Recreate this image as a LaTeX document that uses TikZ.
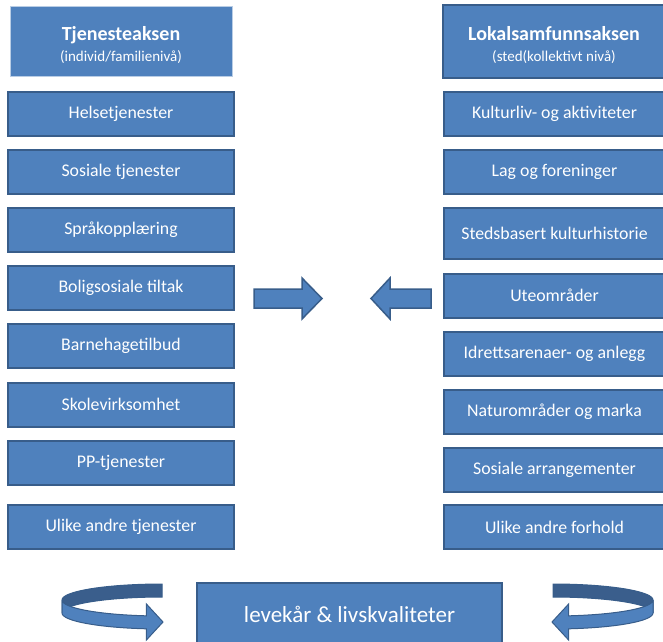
\documentclass[tikz,border=0pt]{standalone}
\usepackage{fontspec}
\setmainfont{Carlito}
\definecolor{boxblue}{HTML}{4F81BD}
\definecolor{boxedge}{HTML}{385D8A}
\definecolor{lightedge}{HTML}{B9CDE5}
\definecolor{backblue}{HTML}{3A5E8C}
\newcommand\myribbon[2]{%
  \filldraw[fill=backblue, draw=boxedge, line width=1pt]
    plot[domain=270:180, samples=40, variable=\t] ({#1+#2*100*cos(\t)},{600+16*sin(\t)})
    -- plot[domain=180:270, samples=40, variable=\t] ({#1+#2*100*cos(\t)},{613+16*sin(\t)})
    -- cycle;
  \filldraw[fill=boxblue, draw=boxedge, line width=1pt]
    plot[domain=180:99, samples=40, variable=\t] ({#1+#2*100*cos(\t)},{600+16*sin(\t)})
    -- ({#1-#2*15.6},{604}) -- ({#1+#2*1},{622}) -- ({#1-#2*15.6},{640})
    -- plot[domain=99:180, samples=40, variable=\t] ({#1+#2*100*cos(\t)},{613+16*sin(\t)})
    -- cycle;
}
\begin{document}
\begin{tikzpicture}[x=1pt,y=-1pt,
  item/.style={draw=boxedge, line width=2pt, fill=boxblue, text=white,
    font=\fontsize{17.8}{20}\selectfont, minimum width=226pt, minimum height=44pt, inner sep=0pt},
  ritem/.style={item, minimum width=221pt},
  hdr/.style={fill=boxblue, inner sep=0pt, minimum width=222pt, minimum height=70pt},
  hdrtext/.style={text=white, align=center, inner sep=0pt, font=\fontsize{15}{21}\selectfont},
  blockarrow/.style={fill=boxblue, draw=boxedge, line width=1.5pt, line join=miter}]
\useasboundingbox (0,0) rectangle (663,641);
\clip (0,0) rectangle (663,641);

% headers
\node[hdr, draw=lightedge, line width=0.8pt] (lh) at (121,41) {};
\node[hdrtext] (lht) at (121,45)
  {{\fontsize{20}{21}\selectfont\bfseries Tjenesteaksen}\\{(individ/familienivå)}};
\node[hdr, draw=boxedge, line width=2pt, minimum height=73pt] (rh) at (554,41) {};
\node[hdrtext] (rht) at (554,45)
  {{\fontsize{20}{21}\selectfont\bfseries Lokalsamfunnsaksen}\\{(sted(kollektivt nivå)}};

% left column
\node[item] (l1) at (121,114) {Helsetjenester};
\node[item] (l2) at (121,172) {Sosiale tjenester};
\node[item] (l3) at (121,230) {Språkopplæring};
\node[item] (l4) at (121,288) {Boligsosiale tiltak};
\node[item] (l5) at (121,346) {Barnehagetilbud};
\node[item] (l6) at (121,404.5) {Skolevirksomhet};
\node[item] (l7) at (121,462.5) {PP-tjenester};
\node[item] (l8) at (121,527) {Ulike andre tjenester};

% right column
\node[ritem] (r1) at (554.5,114) {Kulturliv- og aktiviteter};
\node[ritem] (r2) at (554.5,172) {Lag og foreninger};
\node[ritem, minimum height=51pt] (r3) at (554.5,233.5) {Stedsbasert kulturhistorie};
\node[ritem] (r4) at (554.5,295.5) {Uteområder};
\node[ritem] (r5) at (554.5,354) {Idrettsarenaer- og anlegg};
\node[ritem] (r6) at (554.5,411.5) {Naturområder og marka};
\node[ritem] (r7) at (554.5,469.5) {Sosiale arrangementer};
\node[ritem] (r8) at (554.5,527) {Ulike andre forhold};

% block arrows
\draw[blockarrow] (254,289) -- (302,289) -- (302,278) -- (322,298.5) -- (302,319) -- (302,308) -- (254,308) -- cycle;
\draw[blockarrow] (431,289) -- (390,289) -- (390,278) -- (371,298.5) -- (390,319) -- (390,308) -- (431,308) -- cycle;

% bottom box
\node[draw=boxedge, line width=2pt, fill=boxblue, minimum width=305pt, minimum height=80pt, inner sep=0pt] (bot) at (349.5,623) {};
\node[text=white, font=\fontsize{23}{26}\selectfont] (botlabel) at (349.5,614) {levekår \& livskvaliteter};

% circular arrows
\myribbon{162}{1}
\myribbon{553}{-1}
\end{tikzpicture}
\end{document}
